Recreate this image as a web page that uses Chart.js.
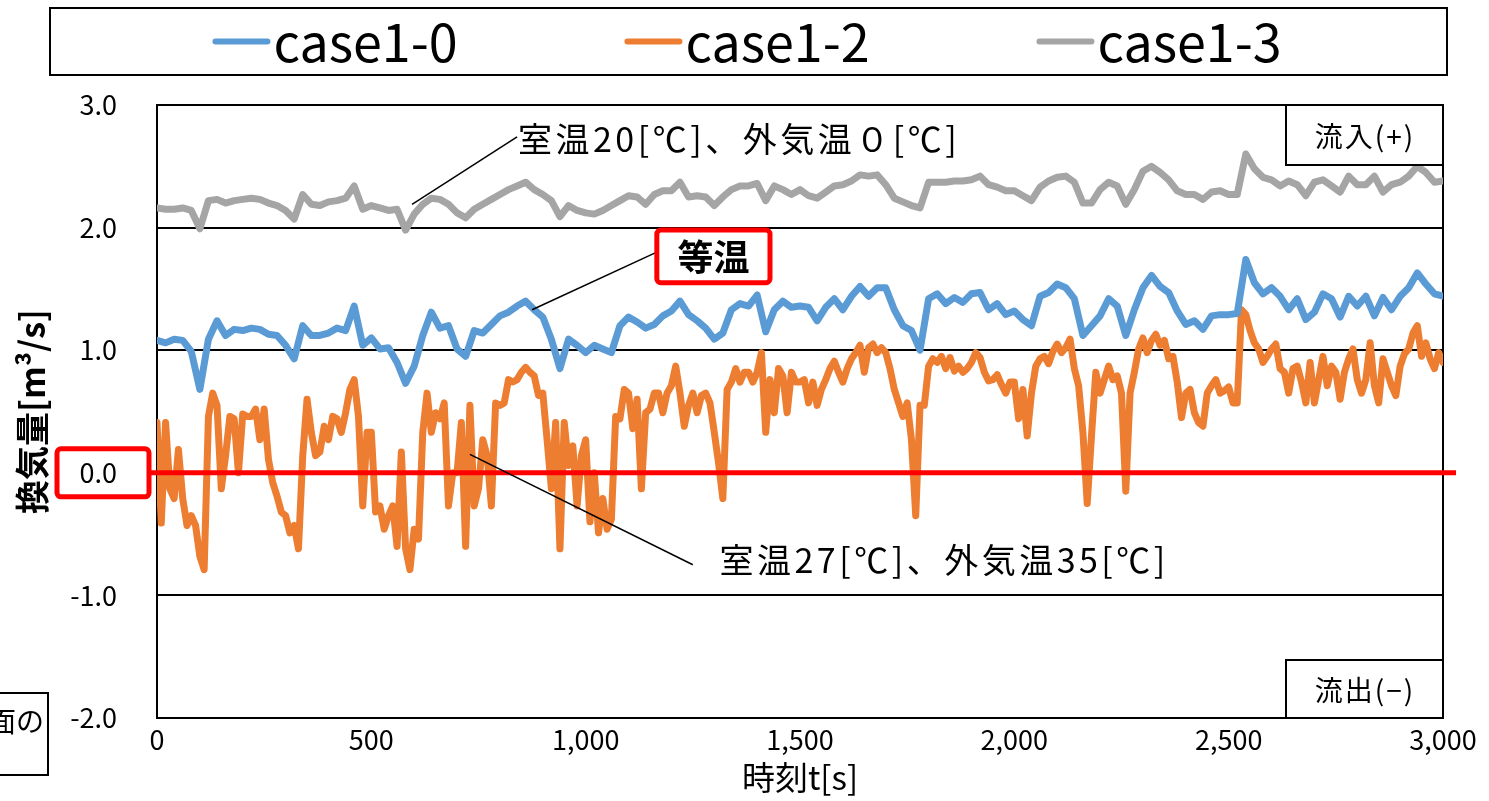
<!DOCTYPE html>
<html lang="ja">
<head>
<meta charset="utf-8">
<title>換気量</title>
<script src="https://cdn.jsdelivr.net/npm/chart.js@4.4.1/dist/chart.umd.min.js"></script>
<style>
  html, body { margin: 0; padding: 0; background: #ffffff; }
  canvas { display: block; }
</style>
</head>
<body>
<canvas id="ventChart" width="1489" height="801"></canvas>
<script>
// series labels and sampling steps [s]
const seriesLabels = ['case1-0', 'case1-2', 'case1-3'];
const seriesColors = ['#5b9bd5', '#ed7d31', '#a5a5a5'];
const STEP_COARSE = 20;
const STEP_FINE = 10;

// case1-0 : 等温 (every 20 s, 0..3000)
const case10 = [
    1.08, 1.06, 1.09, 1.08, 0.99, 0.68, 1.09, 1.24, 1.12, 1.17, 1.16, 1.18, 1.17, 1.13, 1.12, 1.04, 0.93, 1.20, 1.12, 1.12, 1.14, 1.18, 1.16, 1.36, 1.04,
    1.10, 1.01, 1.02, 0.90, 0.73, 0.87, 1.12, 1.31, 1.18, 1.20, 1.01, 0.95, 1.16, 1.14, 1.21, 1.28, 1.31, 1.36, 1.40, 1.33, 1.27, 1.09, 0.85, 1.09, 1.04,
    0.98, 1.04, 1.01, 0.98, 1.20, 1.27, 1.23, 1.18, 1.21, 1.28, 1.32, 1.40, 1.29, 1.24, 1.18, 1.09, 1.14, 1.33, 1.38, 1.36, 1.45, 1.15, 1.33, 1.40, 1.35,
    1.36, 1.35, 1.24, 1.35, 1.42, 1.33, 1.44, 1.52, 1.44, 1.51, 1.51, 1.33, 1.20, 1.16, 1.00, 1.42, 1.46, 1.38, 1.43, 1.39, 1.46, 1.47, 1.33, 1.38, 1.29,
    1.32, 1.25, 1.20, 1.44, 1.47, 1.54, 1.51, 1.42, 1.12, 1.20, 1.28, 1.42, 1.36, 1.12, 1.33, 1.51, 1.61, 1.52, 1.47, 1.32, 1.21, 1.24, 1.17, 1.28, 1.29,
    1.29, 1.30, 1.74, 1.55, 1.46, 1.51, 1.44, 1.33, 1.42, 1.25, 1.31, 1.46, 1.42, 1.27, 1.44, 1.36, 1.44, 1.28, 1.43, 1.33, 1.44, 1.51, 1.63, 1.54, 1.46, 1.44
];

// case1-2 : 室温27℃、外気温35℃ (every 10 s, 0..3000)
const case12 = [
    0.41, -0.41, 0.41, -0.13, -0.21, 0.19, -0.21, -0.43, -0.35, -0.43, -0.68, -0.79, 0.46, 0.65, 0.55, -0.13, 0.14, 0.46, 0.44, 0.00, 0.48, 0.46, 0.46, 0.52, 0.27,
    0.52, 0.11, -0.08, -0.19, -0.32, -0.35, -0.49, -0.43, -0.62, 0.14, 0.60, 0.33, 0.14, 0.17, 0.38, 0.27, 0.46, 0.44, 0.33, 0.49, 0.68, 0.76, 0.46, -0.27, 0.33,
    0.33, -0.32, -0.27, -0.46, -0.35, -0.27, -0.60, 0.17, -0.62, -0.79, -0.46, -0.54, 0.33, 0.65, 0.33, 0.49, 0.44, 0.57, -0.27, 0.00, 0.00, 0.41, -0.60, 0.55, -0.27,
    -0.13, 0.27, 0.14, -0.27, 0.57, 0.55, 0.57, 0.76, 0.74, 0.76, 0.82, 0.86, 0.82, 0.79, 0.63, 0.65, 0.27, -0.13, 0.41, -0.62, 0.41, 0.06, 0.22, -0.27, 0.14,
    0.27, -0.40, 0.00, -0.49, -0.21, -0.46, -0.38, 0.46, 0.44, 0.68, 0.65, 0.36, 0.60, -0.13, 0.49, 0.52, 0.65, 0.65, 0.49, 0.65, 0.71, 0.87, 0.65, 0.38, 0.55,
    0.65, 0.49, 0.63, 0.65, 0.57, 0.33, 0.08, -0.21, 0.68, 0.74, 0.85, 0.74, 0.82, 0.82, 0.74, 0.82, 0.98, 0.33, 0.76, 0.49, 0.85, 0.79, 0.49, 0.82, 0.74,
    0.74, 0.76, 0.57, 0.74, 0.55, 0.68, 0.76, 0.85, 0.91, 0.82, 0.74, 0.85, 0.93, 0.98, 1.04, 0.82, 1.02, 1.05, 0.98, 1.02, 0.98, 0.85, 0.68, 0.57, 0.46,
    0.57, 0.27, -0.35, 0.55, 0.55, 0.87, 0.93, 0.90, 0.95, 0.85, 0.94, 0.83, 0.87, 0.82, 0.85, 0.90, 0.98, 0.94, 0.82, 0.75, 0.76, 0.80, 0.72, 0.65, 0.74,
    0.74, 0.44, 0.68, 0.30, 0.65, 0.87, 0.93, 0.95, 0.89, 0.99, 1.05, 0.98, 1.02, 1.09, 0.85, 0.71, 0.33, -0.25, 0.30, 0.82, 0.65, 0.76, 0.87, 0.76, 0.79,
    0.65, -0.15, 0.65, 0.82, 1.01, 1.10, 0.98, 1.08, 1.13, 1.04, 1.08, 0.93, 0.95, 0.74, 0.45, 0.65, 0.68, 0.49, 0.41, 0.38, 0.65, 0.71, 0.76, 0.65, 0.67,
    0.70, 0.57, 0.57, 1.33, 1.29, 1.16, 1.06, 1.01, 0.90, 0.95, 1.01, 1.05, 0.85, 0.82, 0.65, 0.85, 0.87, 0.74, 0.57, 0.90, 0.57, 0.76, 0.95, 0.71, 0.87,
    0.82, 0.60, 0.82, 0.93, 1.01, 0.76, 0.65, 0.76, 1.06, 0.71, 0.57, 0.93, 0.82, 0.71, 0.63, 0.87, 0.97, 1.01, 1.14, 1.20, 0.95, 1.06, 0.93, 0.85, 0.98, 0.90
];

// case1-3 : 室温20℃、外気温0℃ (every 20 s, 0..3000)
const case13 = [
    2.16, 2.15, 2.15, 2.16, 2.14, 1.99, 2.22, 2.23, 2.20, 2.22, 2.23, 2.24, 2.23, 2.20, 2.18, 2.14, 2.07, 2.27, 2.19, 2.18, 2.21, 2.22, 2.24, 2.34, 2.15,
    2.18, 2.16, 2.14, 2.15, 1.98, 2.11, 2.19, 2.24, 2.23, 2.19, 2.12, 2.08, 2.15, 2.19, 2.23, 2.27, 2.31, 2.34, 2.37, 2.31, 2.27, 2.22, 2.09, 2.18, 2.14,
    2.12, 2.11, 2.14, 2.18, 2.22, 2.26, 2.25, 2.19, 2.27, 2.30, 2.30, 2.37, 2.25, 2.26, 2.25, 2.18, 2.25, 2.31, 2.34, 2.34, 2.36, 2.22, 2.34, 2.31, 2.27,
    2.31, 2.26, 2.24, 2.29, 2.34, 2.35, 2.38, 2.43, 2.42, 2.43, 2.35, 2.24, 2.21, 2.18, 2.16, 2.37, 2.37, 2.37, 2.38, 2.38, 2.39, 2.42, 2.35, 2.33, 2.30,
    2.30, 2.26, 2.22, 2.33, 2.38, 2.41, 2.42, 2.37, 2.20, 2.20, 2.31, 2.37, 2.34, 2.19, 2.31, 2.46, 2.50, 2.45, 2.39, 2.30, 2.27, 2.27, 2.23, 2.29, 2.30,
    2.27, 2.27, 2.60, 2.48, 2.41, 2.39, 2.34, 2.38, 2.35, 2.26, 2.37, 2.39, 2.34, 2.29, 2.42, 2.35, 2.35, 2.42, 2.29, 2.35, 2.37, 2.42, 2.50, 2.45, 2.37, 2.38
];

// axis ticks
const xTicks = [0, 500, 1000, 1500, 2000, 2500, 3000];
const yTicks = [-2, -1, 0, 1, 2, 3];

const FONT = '"Noto Sans CJK JP", "Noto Sans", sans-serif';

function toPoints(values, step) {
    return values.map((v, i) => ({ x: i * step, y: v }));
}

function makeDataset(idx, values, step) {
    return {
        label: seriesLabels[idx],
        data: toPoints(values, step),
        borderColor: seriesColors[idx],
        backgroundColor: seriesColors[idx],
        borderWidth: 7,
        pointRadius: 0,
        tension: 0,
        borderJoinStyle: 'round',
        borderCapStyle: 'round',
        fill: false
    };
}

// frame around plot area
const framePlugin = {
    id: 'frame',
    beforeDatasetsDraw(chart) {
        const { ctx, chartArea: a } = chart;
        ctx.save();
        ctx.strokeStyle = '#000';
        ctx.lineWidth = 2;
        ctx.strokeRect(a.left, a.top, a.right - a.left, a.bottom - a.top);
        ctx.restore();
    }
};

// legend box drawn at the top
const boxLegendPlugin = {
    id: 'boxLegend',
    afterDraw(chart) {
        const { ctx } = chart;
        const box = { left: 50, top: 8, right: 1447, bottom: 75 };
        ctx.save();
        ctx.strokeStyle = '#000';
        ctx.lineWidth = 2;
        ctx.strokeRect(box.left, box.top, box.right - box.left, box.bottom - box.top);

        ctx.font = '52px ' + FONT;
        ctx.textBaseline = 'middle';
        ctx.textAlign = 'left';
        const lineLen = 52, gap = 6, pitch = 412;
        const sets = chart.data.datasets;
        const textW = ctx.measureText(sets[0].label).width;
        const total = pitch * (sets.length - 1) + lineLen + gap + textW;
        const cy = (box.top + box.bottom) / 2;
        let x = (box.left + box.right) / 2 - total / 2;
        sets.forEach(ds => {
            ctx.strokeStyle = ds.borderColor;
            ctx.lineWidth = 6;
            ctx.lineCap = 'round';
            ctx.beginPath();
            ctx.moveTo(x, cy);
            ctx.lineTo(x + lineLen, cy);
            ctx.stroke();
            ctx.fillStyle = '#000';
            ctx.fillText(ds.label, x + lineLen + gap, cy + 1);
            x += pitch;
        });
        ctx.restore();
    }
};

// zero line, labels and call-outs
const annotationPlugin = {
    id: 'annotations',
    afterDatasetsDraw(chart) {
        const { ctx, chartArea: a, scales: { x, y } } = chart;
        const px = v => x.getPixelForValue(v);
        const py = v => y.getPixelForValue(v);
        ctx.save();

        // red zero line
        const y0 = py(0);
        ctx.strokeStyle = '#ff0000';
        ctx.lineWidth = 5;
        ctx.beginPath();
        ctx.moveTo(a.left - 8, y0);
        ctx.lineTo(a.right + 13, y0);
        ctx.stroke();

        // red box round the 0.0 tick label
        ctx.beginPath();
        ctx.roundRect(a.left - 100, y0 - 24, 92, 48, 4);
        ctx.stroke();

        // leader lines
        ctx.strokeStyle = '#000';
        ctx.lineWidth = 1.5;
        const leaders = [
            [[595, 2.19], [840, 2.74]],
            [[875, 1.33], [1166, 1.80]],
            [[730, 0.15], [1250, -0.75]]
        ];
        leaders.forEach(([p, q]) => {
            ctx.beginPath();
            ctx.moveTo(px(p[0]), py(p[1]));
            ctx.lineTo(px(q[0]), py(q[1]));
            ctx.stroke();
        });

        ctx.fillStyle = '#000';
        ctx.textBaseline = 'middle';
        ctx.textAlign = 'left';
        ctx.font = '34px ' + FONT;
        ctx.letterSpacing = '3.5px';
        ctx.fillText('室温20[℃]、外気温０[℃]', px(842), py(2.72));
        ctx.fillText('室温27[℃]、外気温35[℃]', px(1312), py(-0.71));
        ctx.letterSpacing = '0px';

        // 等温 in red box
        const bx = px(1166), bw = px(1430) - bx;
        const byTop = py(1.98), bh = py(1.55) - byTop;
        ctx.fillStyle = '#fff';
        ctx.fillRect(bx, byTop, bw, bh);
        ctx.strokeStyle = '#ff0000';
        ctx.lineWidth = 5;
        ctx.beginPath();
        ctx.roundRect(bx, byTop, bw, bh, 4);
        ctx.stroke();
        ctx.fillStyle = '#000';
        ctx.textAlign = 'center';
        ctx.font = 'bold 36px ' + FONT;
        ctx.fillText('等温', bx + bw / 2, byTop + bh / 2 + 1);

        // 流入 / 流出 boxes
        ctx.font = '28px ' + FONT;
        ctx.letterSpacing = '2px';
        ctx.strokeStyle = '#000';
        ctx.lineWidth = 2;
        const flowBoxes = [
            { text: '流入(+)', top: a.top, h: 60 },
            { text: '流出(−)', top: a.bottom - 58, h: 58 }
        ];
        flowBoxes.forEach(b => {
            ctx.fillStyle = '#fff';
            ctx.fillRect(a.right - 157, b.top, 157, b.h);
            ctx.strokeRect(a.right - 157, b.top, 157, b.h);
            ctx.fillStyle = '#000';
            ctx.fillText(b.text, a.right - 78, b.top + b.h / 2 + 1);
        });
        ctx.letterSpacing = '0px';

        // clipped note box on the lower left
        ctx.strokeRect(-2, 693, 50, 82);
        ctx.textAlign = 'right';
        ctx.font = '28px ' + FONT;
        ctx.fillText('面の', 44, 721);

        ctx.restore();
    }
};

function renderVentChart(canvasId) {
    const ctx = document.getElementById(canvasId)?.getContext('2d');
    if (!ctx) return;

    const config = {
        type: 'line',
        data: {
            datasets: [
                makeDataset(0, case10, STEP_COARSE),
                makeDataset(1, case12, STEP_FINE),
                makeDataset(2, case13, STEP_COARSE)
            ]
        },
        options: {
            responsive: false,
            animation: false,
            devicePixelRatio: 1,
            layout: { padding: { top: 105, right: 46, bottom: 0, left: 0 } },
            plugins: {
                legend: { display: false },
                tooltip: { enabled: false }
            },
            scales: {
                x: {
                    type: 'linear',
                    min: xTicks[0],
                    max: xTicks[xTicks.length - 1],
                    afterBuildTicks: (scale) => { scale.ticks = xTicks.map(v => ({ value: v })); },
                    ticks: {
                        color: '#000',
                        font: { size: 27, family: FONT },
                        padding: 6,
                        maxRotation: 0,
                        callback: (value) => value.toLocaleString('en-US')
                    },
                    grid: { display: false, drawTicks: false },
                    border: { display: true, color: '#000', width: 2 },
                    title: {
                        display: true,
                        text: '時刻t[s]',
                        color: '#000',
                        font: { size: 33, family: FONT },
                        padding: { top: 0, bottom: 4 }
                    },
                    afterFit: (scale) => { scale.height = 83; }
                },
                y: {
                    min: yTicks[0],
                    max: yTicks[yTicks.length - 1],
                    afterBuildTicks: (scale) => { scale.ticks = yTicks.map(v => ({ value: v })); },
                    ticks: {
                        color: '#000',
                        font: { size: 27, family: FONT },
                        padding: 40,
                        callback: (value) => value.toFixed(1)
                    },
                    grid: { color: '#000', lineWidth: 2, drawTicks: false },
                    border: { display: true, color: '#000', width: 2 },
                    title: {
                        display: true,
                        text: '換気量[m³/s]',
                        color: '#000',
                        font: { size: 34, family: FONT, weight: 'bold' },
                        padding: { top: 12, bottom: 0 }
                    },
                    afterFit: (scale) => { scale.width = 157; }
                }
            }
        },
        plugins: [framePlugin, annotationPlugin, boxLegendPlugin]
    };

    return new Chart(ctx, config);
}

renderVentChart('ventChart');
</script>
</body>
</html>
